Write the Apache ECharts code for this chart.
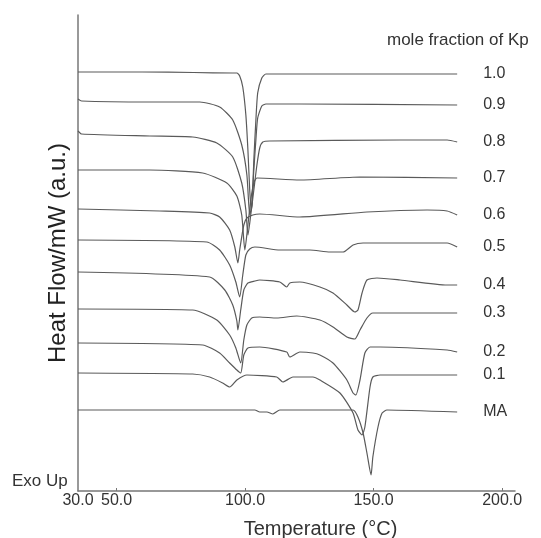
<!DOCTYPE html>
<html>
<head>
<meta charset="utf-8">
<script src="https://cdn.jsdelivr.net/npm/echarts@6/dist/echarts.min.js"></script>
<style>
  html, body { margin: 0; padding: 0; background: #fff; }
  #chart { width: 541px; height: 538px; }
</style>
</head>
<body>
<div id="chart"></div>
<script>
// DSC curves, [temperature °C, heat flow a.u. incl. stacking offset]
var kp10 = [[35,419],[60,419],[80,418.5],[95,418],[96.8,418],[97.9,415],[99.1,404],[100.3,376],[101.1,341],[101.8,301],[102.4,281],[102.8,291],[103.4,331],[104.2,371],[104.9,398],[106.5,413],[108.1,417],[120,417],[150,417],[182.5,417]];
var kp09 = [[35,392],[36.4,390],[62.9,389],[82.4,389],[90.1,384],[95.2,371],[98.7,346],[100.7,316],[101.8,276],[102.6,286],[103.4,321],[104.2,351],[104.9,373],[106.5,385],[108.1,387],[121.3,387],[182.5,386]];
var kp08 = [[35,360],[36.4,357],[62.9,355],[79.6,354],[89.0,348],[95.2,334],[98.7,308],[100.3,281],[101.1,256],[102.2,276],[103.4,301],[104.6,326],[105.7,343],[106.9,349],[109.6,350],[160.3,351],[178.6,351],[182.5,349]];
var kp07 = [[35,321],[62.9,321],[83.5,318],[92.9,308],[96.8,295],[98.7,276],[99.9,241],[101.1,266],[102.2,291],[103.4,308],[104.6,313],[121.3,311],[144.7,314],[182.5,313]];
var kp06 = [[35,282],[66.8,280],[86.2,278],[90.1,274],[94.0,261],[96.0,244],[97.2,228],[97.9,241],[99.5,266],[100.7,273],[103.0,276],[105.7,277],[121.3,274],[147.4,279],[170.8,281],[178.6,280],[182.5,276]];
var kp05 = [[35,251],[85.1,249],[90.1,241],[94.0,226],[96.4,209],[97.9,194],[99.1,216],[100.3,236],[101.8,242],[103.8,244],[113.5,241],[125.2,241],[133.0,239],[138.1,239],[142.0,246],[145.9,248],[178.6,248],[182.5,244]];
var kp04 = [[35,219],[86.2,214],[92.1,201],[95.2,186],[96.8,170],[97.2,161],[98.3,181],[99.5,201],[101.1,208],[103.8,210],[105.7,211],[113.5,209],[116.2,204],[117.4,208],[121.3,209],[129.1,204],[134.2,198],[139.6,186],[142.7,179],[143.9,181],[145.5,198],[147.4,211],[151.3,213],[160.3,211],[178.6,206],[182.5,206]];
var kp03 = [[35,182],[79.6,181],[89.0,171],[94.0,156],[96.4,143],[98.3,128],[99.5,151],[100.7,166],[102.6,173],[105.7,174],[112.3,173],[120.1,175],[129.1,171],[134.2,164],[139.6,154],[142.7,152],[144.7,161],[147.4,173],[149.7,178],[182.5,178]];
var kp02 = [[35,148],[83.5,146],[90.1,138],[94.0,128],[96.8,121],[98.3,118],[99.5,136],[101.1,143],[105.7,144],[116.2,139],[117.4,134],[121.3,139],[126.4,138],[129.1,136],[134.2,128],[139.6,111],[142.0,98],[143.1,96],[144.7,111],[146.6,138],[148.6,144],[152.5,144],[178.6,141],[182.5,139]];
var kp01 = [[35,118],[79.6,117],[86.2,114],[91.3,108],[94.0,104],[96.8,111],[100.7,116],[112.3,114],[114.7,109],[118.6,114],[126.4,114],[129.1,111],[136.9,98],[142.0,78],[143.9,61],[145.5,56],[146.6,64],[148.6,104],[149.7,114],[152.5,116],[182.5,116]];
var ma = [[35,81],[103.8,81],[105.7,79],[108.5,79],[110.8,77],[113.5,81],[142.0,81],[143.9,74],[145.9,58],[147.4,38],[149.0,16],[149.7,34],[151.7,64],[153.3,78],[155.2,81],[182.5,79]];

var curveNames = ['1.0', '0.9', '0.8', '0.7', '0.6', '0.5', '0.4', '0.3', '0.2', '0.1', 'MA'];
var curveData = [kp10, kp09, kp08, kp07, kp06, kp05, kp04, kp03, kp02, kp01, ma];

// x axis: the reference prints "30.0" at the axis start
var tickValues = [35, 50, 100, 150, 200];
var tickLabels = ['30.0', '50.0', '100.0', '150.0', '200.0'];

var font = 'Liberation Sans, Arial, sans-serif';

var chart = echarts.init(document.getElementById('chart'));

var series = curveData.map(function (d, i) {
    return {
        name: curveNames[i],
        type: 'line',
        data: d,
        smooth: 0.2,
        showSymbol: false,
        lineStyle: { color: '#5a5a5a', width: 1.2 },
        endLabel: {
            show: true,
            formatter: '{a}',
            distance: 26,
            color: '#333',
            fontSize: 16,
            fontFamily: font
        }
    };
});

var option = {
    animation: false,
    title: {
        text: 'mole fraction of Kp',
        left: 382,
        top: 27,
        textStyle: { fontSize: 17, fontWeight: 'normal', color: '#333', fontFamily: font }
    },
    grid: { left: 78, right: 26, top: 15, bottom: 47, outerBoundsMode: 'none' },
    xAxis: {
        type: 'value',
        min: 35,
        max: 205,
        name: 'Temperature (°C)',
        nameLocation: 'middle',
        nameGap: 28,
        nameTextStyle: { fontSize: 20, color: '#333', fontFamily: font, padding: [0, 0, 0, 48] },
        axisLine: { lineStyle: { color: '#777', width: 1.5 } },
        axisTick: { inside: true, length: 3, customValues: [50, 100, 150, 200], lineStyle: { color: '#777' } },
        axisLabel: {
            customValues: tickValues,
            formatter: function (v) { return tickLabels[tickValues.indexOf(v)]; },
            fontSize: 16,
            color: '#333',
            fontFamily: font,
            margin: 2
        },
        splitLine: { show: false }
    },
    yAxis: {
        type: 'value',
        min: 0,
        max: 476,
        name: 'Heat Flow/mW (a.u.)',
        nameLocation: 'middle',
        nameRotate: 90,
        nameGap: 8,
        nameTextStyle: { fontSize: 24, color: '#222', fontFamily: font },
        axisLine: { show: true, lineStyle: { color: '#777', width: 1.5 } },
        axisTick: { show: false },
        axisLabel: { show: false },
        splitLine: { show: false }
    },
    graphic: [{
        type: 'text',
        left: 12,
        top: 473,
        style: { text: 'Exo Up', fontSize: 17, fill: '#333', fontFamily: font }
    }],
    series: series
};

chart.setOption(option);
</script>
</body>
</html>
